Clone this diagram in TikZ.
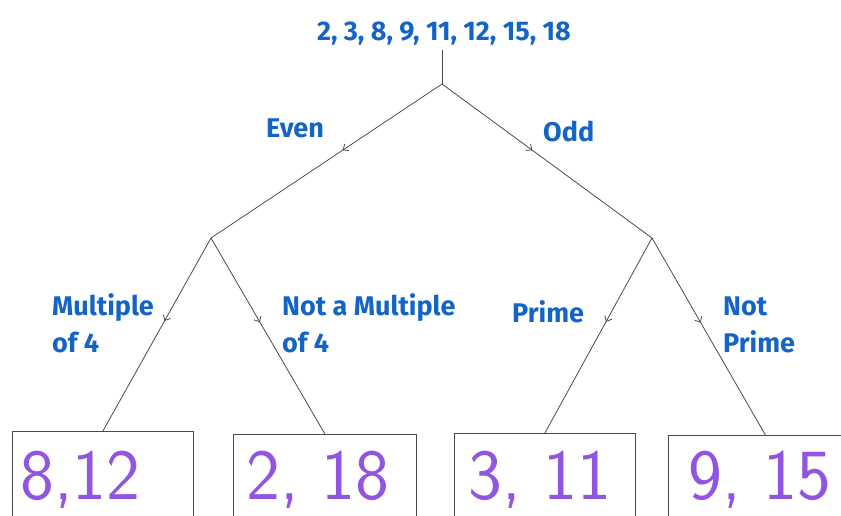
\documentclass[tikz,border=0pt]{standalone}
\usepackage{fontspec}
\newfontfamily\lblfont{Fira Sans}
\usetikzlibrary{arrows.meta,decorations.markings}
\definecolor{lblblue}{RGB}{20,100,200}
\definecolor{handpurple}{RGB}{145,85,225}
\definecolor{linegray}{RGB}{75,75,75}
\tikzset{
  lbltext/.style={text=lblblue, font=\lblfont\bfseries\fontsize{27}{37}\selectfont, inner sep=0pt},
  hand/.style={text=handpurple, font=\sffamily\fontsize{72}{72}\selectfont, inner sep=0pt},
  leaf/.style={draw=linegray, line width=0.8pt, minimum height=130pt, inner sep=0pt},
  conn/.style={draw=linegray, line width=0.8pt, postaction={decorate},
    decoration={markings, mark=at position 0.43 with {\arrow{Straight Barb[length=4.5pt,width=8pt]}}}},
  plain/.style={draw=linegray, line width=0.8pt}
}
\begin{document}
\begin{tikzpicture}[x=1pt,y=-1pt]
\useasboundingbox (0,0) rectangle (841,515);
\clip (0,0) rectangle (841,515);
\fill[white] (0,0) rectangle (841,515);

\node[lbltext, anchor=base, inner sep=5pt] (top) at (444,40) {2, 3, 8, 9, 11, 12, 15, 18};
\coordinate (root) at (442,84);
\coordinate (jl) at (211,238);
\coordinate (jr) at (652,238);

\node[leaf, anchor=north west, minimum width=181pt] (b1) at (12,431) {};
\node[leaf, anchor=north west, minimum width=183pt] (b2) at (233,434) {};
\node[leaf, anchor=north west, minimum width=181pt] (b3) at (454,433) {};
\node[leaf, anchor=north west, minimum width=194pt] (b4) at (668,435) {};

\draw[plain] (top.south -| root) -- (root);
\draw[conn] (root) -- (jl);
\draw[conn] (root) -- (jr);
\draw[conn] (jl) -- (b1.north);
\draw[conn] (jl) -- (b2.north);
\draw[conn] (jr) -- (b3.north);
\draw[conn] (jr) -- (b4.north);

\node[lbltext, anchor=base west] (even) at (266,137) {Even};
\node[lbltext, anchor=base west] (odd) at (543,141) {Odd};
\node[lbltext, anchor=north west, align=left] (mult) at (52,293) {Multiple\\of 4};
\node[lbltext, anchor=north west, align=left] (notmult) at (282,293) {Not a Multiple\\of 4};
\node[lbltext, anchor=base west] (prime) at (512,322) {Prime};
\node[lbltext, anchor=north west, align=left] (notprime) at (723,297) {Not\\Prime};

\node[hand, anchor=base west] (t1) at (20,499) {8,12};
\node[hand, anchor=base west] (t2) at (246,499) {2, 18};
\node[hand, anchor=base west] (t3) at (468,499) {3, 11};
\node[hand, anchor=base west] (t4) at (688,499) {9, 15};
\end{tikzpicture}
\end{document}
